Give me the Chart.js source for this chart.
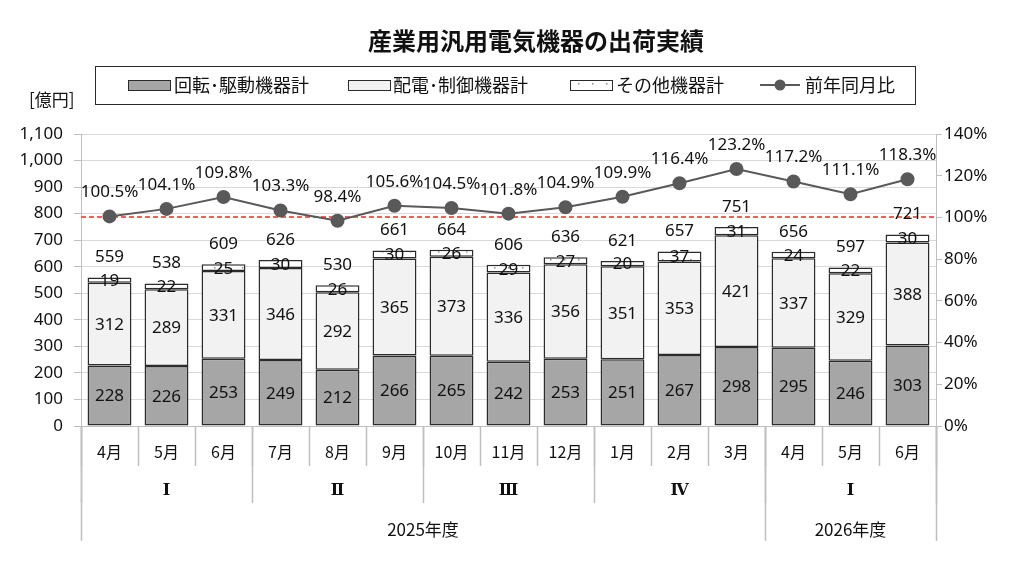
<!DOCTYPE html>
<html>
<head>
<meta charset="utf-8">
<script src="https://cdn.jsdelivr.net/npm/chart.js@4.4.1/dist/chart.umd.min.js"></script>
<style>
  body { margin: 0; background: #fff; }
</style>
</head>
<body>
<canvas id="myChart" width="1024" height="581"></canvas>
<script>
// data
const months = ['4月', '5月', '6月', '7月', '8月', '9月', '10月', '11月', '12月', '1月', '2月', '3月', '4月', '5月', '6月'];
const quarters = ['Ⅰ', 'Ⅱ', 'Ⅲ', 'Ⅳ', 'Ⅰ'];
const quarterSpan = [3, 3, 3, 3, 3];
const years = ['2025年度', '2026年度'];
const yearSpan = [12, 3];
const rotating = [228, 226, 253, 249, 212, 266, 265, 242, 253, 251, 267, 298, 295, 246, 303];
const distribution = [312, 289, 331, 346, 292, 365, 373, 336, 356, 351, 353, 421, 337, 329, 388];
const others = [19, 22, 25, 30, 26, 30, 26, 29, 27, 20, 37, 31, 24, 22, 30];
const totals = [559, 538, 609, 626, 530, 661, 664, 606, 636, 621, 657, 751, 656, 597, 721];
const yoyRatio = [100.5, 104.1, 109.8, 103.3, 98.4, 105.6, 104.5, 101.8, 104.9, 109.9, 116.4, 123.2, 117.2, 111.1, 118.3];
const seriesNames = ['回転･駆動機器計', '配電･制御機器計', 'その他機器計', '前年同月比'];

const NUM = '"Noto Sans", "Noto Sans CJK JP", sans-serif';
const JP = '"Noto Sans CJK JP", sans-serif';
const SERIF = '"DejaVu Serif", "Liberation Serif", "Noto Sans CJK JP", serif';
const TXT = '#111';
const EDGE = '#2b2b2b';
const LINE = '#595959';

// dotted fill for その他
function dotPattern() {
    const c = document.createElement('canvas');
    c.width = 14; c.height = 8;
    const g = c.getContext('2d');
    g.fillStyle = '#fff';
    g.fillRect(0, 0, 14, 8);
    g.fillStyle = '#8c8c8c';
    g.fillRect(4, 3, 1.5, 1.5);
    return g.createPattern(c, 'repeat');
}
const dots = dotPattern();

const extras = {
    id: 'extras',
    beforeDatasetsDraw(chart) {
        const {ctx, chartArea} = chart;
        const y = Math.round(chart.scales.y1.getPixelForValue(100));
        ctx.save();
        ctx.strokeStyle = '#ff5a5a';
        ctx.lineWidth = 2;
        ctx.setLineDash([5, 3]);
        ctx.beginPath();
        ctx.moveTo(chartArea.left, y);
        ctx.lineTo(chartArea.right, y);
        ctx.stroke();
        ctx.restore();
    },
    afterDatasetsDraw(chart) {
        const ctx = chart.ctx;
        ctx.save();
        ctx.fillStyle = TXT;
        ctx.textAlign = 'center';
        ctx.textBaseline = 'middle';
        ctx.font = '17px ' + NUM;
        const sources = [rotating, distribution, others];
        for (let d = 0; d < 3; d++) {
            chart.getDatasetMeta(d).data.forEach((el, i) => {
                ctx.fillText(String(sources[d][i]), el.x, (el.y + el.base) / 2 + 1);
            });
        }
        chart.getDatasetMeta(2).data.forEach((el, i) => {
            ctx.fillText(String(totals[i]), el.x, el.y - 20);
        });
        chart.getDatasetMeta(3).data.forEach((el, i) => {
            ctx.fillText(yoyRatio[i].toFixed(1) + '%', el.x, el.y - 24);
        });
        ctx.restore();
    },
    afterDraw(chart) {
        const {ctx} = chart;
        const x = chart.scales.x;
        const step = (x.right - x.left) / months.length;
        const edge = (k) => x.left + step * k;
        const bottom = x.top;
        ctx.save();
        ctx.strokeStyle = '#bfbfbf';
        ctx.lineWidth = 1.5;
        const vline = (px, y2) => {
            ctx.beginPath();
            ctx.moveTo(Math.round(px) + 0.5, bottom);
            ctx.lineTo(Math.round(px) + 0.5, y2);
            ctx.stroke();
        };
        for (let k = 0; k <= months.length; k++) vline(edge(k), 466);
        let k = 0;
        vline(edge(0), 503);
        quarterSpan.forEach(n => { k += n; vline(edge(k), 503); });
        k = 0;
        vline(edge(0), 541);
        yearSpan.forEach(n => { k += n; vline(edge(k), 541); });

        ctx.fillStyle = TXT;
        ctx.textAlign = 'center';
        ctx.textBaseline = 'middle';
        ctx.font = '16px ' + JP;
        months.forEach((m, i) => ctx.fillText(m, x.getPixelForValue(i), 452));
        ctx.font = 'bold 16px ' + SERIF;
        k = 0;
        quarters.forEach((q, i) => {
            ctx.fillText(q, (edge(k) + edge(k + quarterSpan[i])) / 2, 491);
            k += quarterSpan[i];
        });
        ctx.font = '17px ' + JP;
        k = 0;
        years.forEach((yname, i) => {
            ctx.fillText(yname, (edge(k) + edge(k + yearSpan[i])) / 2, 530);
            k += yearSpan[i];
        });

        // title
        ctx.font = 'bold 24px ' + JP;
        ctx.fillText('産業用汎用電気機器の出荷実績', 536, 41);

        // unit
        ctx.font = '17px ' + JP;
        ctx.textAlign = 'left';
        ctx.fillText('[億円]', 29, 100);

        // legend
        ctx.strokeStyle = EDGE;
        ctx.lineWidth = 1;
        ctx.strokeRect(95.5, 66.5, 820, 38);
        const cy = 85;
        const swatch = (sx, fill) => {
            ctx.fillStyle = fill;
            ctx.fillRect(sx, cy - 5, 42, 10);
            ctx.strokeStyle = EDGE;
            ctx.strokeRect(sx + 0.5, cy - 4.5, 42, 10);
        };
        swatch(128, '#a6a6a6');
        swatch(348, '#f2f2f2');
        swatch(570, dots);
        ctx.strokeStyle = LINE;
        ctx.lineWidth = 2;
        ctx.beginPath();
        ctx.moveTo(760, cy);
        ctx.lineTo(800, cy);
        ctx.stroke();
        ctx.fillStyle = LINE;
        ctx.beginPath();
        ctx.arc(780, cy, 5.5, 0, Math.PI * 2);
        ctx.fill();
        ctx.fillStyle = TXT;
        ctx.font = '18px ' + JP;
        ctx.fillText(seriesNames[0], 174, cy);
        ctx.fillText(seriesNames[1], 393, cy);
        ctx.fillText(seriesNames[2], 616, cy);
        ctx.fillText(seriesNames[3], 805, cy);
        ctx.restore();
    }
};

const barStyle = {
    type: 'bar',
    yAxisID: 'y',
    borderColor: EDGE,
    borderWidth: 1.5,
    borderSkipped: false,
    inflateAmount: 0,
    barPercentage: 0.77,
    categoryPercentage: 1,
    order: 1
};

new Chart(document.getElementById('myChart').getContext('2d'), {
    data: {
        labels: months,
        datasets: [
            {...barStyle, label: seriesNames[0], data: rotating, backgroundColor: '#a6a6a6'},
            {...barStyle, label: seriesNames[1], data: distribution, backgroundColor: '#f2f2f2'},
            {...barStyle, label: seriesNames[2], data: others, backgroundColor: dots},
            {
                type: 'line',
                label: seriesNames[3],
                data: yoyRatio,
                yAxisID: 'y1',
                borderColor: LINE,
                borderWidth: 2,
                pointRadius: 6,
                pointBackgroundColor: LINE,
                pointBorderColor: LINE,
                tension: 0,
                order: 0
            }
        ]
    },
    options: {
        responsive: false,
        animation: false,
        layout: {padding: {top: 134, left: 0, right: 0, bottom: 0}},
        plugins: {legend: {display: false}, tooltip: {enabled: false}},
        scales: {
            x: {
                stacked: true,
                offset: true,
                grid: {display: false},
                border: {display: true, color: '#bfbfbf'},
                ticks: {display: false},
                afterFit(scale) { scale.height = 155; }
            },
            y: {
                stacked: true,
                position: 'left',
                min: 0,
                max: 1100,
                ticks: {
                    stepSize: 100,
                    color: TXT,
                    padding: 11,
                    font: {family: NUM, size: 17},
                    callback: (v) => v.toLocaleString('en-US')
                },
                grid: {color: '#d9d9d9', tickColor: '#bfbfbf', tickLength: 7},
                border: {color: '#bfbfbf'},
                afterFit(scale) { scale.width = 81; }
            },
            y1: {
                position: 'right',
                min: 0,
                max: 140,
                ticks: {
                    stepSize: 20,
                    color: TXT,
                    padding: 2,
                    font: {family: NUM, size: 17},
                    callback: (v) => v + '%'
                },
                grid: {drawOnChartArea: false, tickColor: '#bfbfbf', tickLength: 6},
                border: {color: '#bfbfbf'},
                afterFit(scale) { scale.width = 88; }
            }
        }
    },
    plugins: [extras]
});
</script>
</body>
</html>
